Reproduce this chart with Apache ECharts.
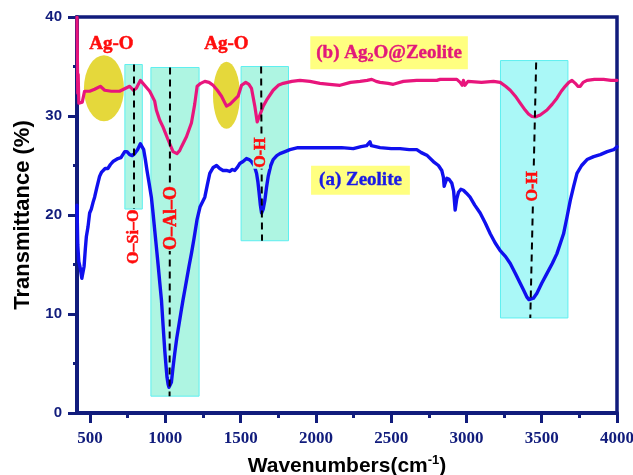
<!DOCTYPE html>
<html>
<head>
<meta charset="utf-8">
<script src="https://cdn.jsdelivr.net/npm/echarts@6/dist/echarts.min.js"></script>
<style>
  html, body { margin: 0; padding: 0; background: #ffffff; }
  #chart { width: 633px; height: 475px; }
</style>
</head>
<body>
<div id="chart"></div>
<script>
// FTIR spectra: (a) Zeolite and (b) Ag2O@Zeolite, transmittance vs wavenumber

const xRange = [413, 4000];
const xTickValues = [500, 1000, 1500, 2000, 2500, 3000, 3500, 4000];
const xMinorTickValues = [750, 1250, 1750, 2250, 2750, 3250, 3750];
const yRange = [0, 40];
const yStep = 10;

// (a) Zeolite
const zeoliteWn = [413, 418, 425, 435, 445, 452, 460, 468, 475, 486, 497, 508, 520, 530, 545, 563, 575, 585, 600, 618, 635, 652, 685, 705, 730, 745, 763, 780, 796, 815, 834, 845, 856, 867, 878, 892, 907, 918, 929, 940, 951, 962, 974, 985, 996, 1004, 1011, 1018, 1024, 1032, 1040, 1050, 1062, 1076, 1091, 1105, 1117, 1130, 1144, 1158, 1173, 1190, 1210, 1230, 1262, 1278, 1295, 1318, 1340, 1361, 1383, 1406, 1428, 1445, 1461, 1478, 1494, 1516, 1539, 1556, 1572, 1590, 1606, 1615, 1623, 1631, 1639, 1650, 1661, 1672, 1683, 1700, 1716, 1740, 1761, 1795, 1827, 1880, 1938, 2000, 2093, 2170, 2248, 2300, 2337, 2350, 2359, 2368, 2381, 2426, 2500, 2559, 2620, 2670, 2700, 2740, 2780, 2814, 2836, 2847, 2852, 2858, 2870, 2885, 2903, 2915, 2925, 2935, 2947, 2963, 2980, 3000, 3024, 3055, 3091, 3125, 3158, 3190, 3224, 3260, 3291, 3325, 3357, 3380, 3402, 3415, 3428, 3445, 3468, 3500, 3535, 3570, 3601, 3625, 3645, 3668, 3690, 3712, 3734, 3765, 3801, 3845, 3889, 3935, 3978, 4000];
const zeoliteT = [21.0, 17.0, 15.3, 14.6, 13.6, 13.4, 14.8, 16.5, 17.8, 18.8, 20.2, 20.6, 21.3, 21.8, 22.8, 23.9, 24.3, 24.5, 24.7, 24.7, 25.1, 25.4, 25.7, 25.8, 26.4, 26.4, 26.1, 26.0, 26.2, 26.6, 27.2, 27.0, 26.6, 25.6, 24.5, 23.2, 21.8, 20.2, 18.5, 16.8, 15.1, 13.3, 11.4, 8.8, 6.3, 4.8, 3.6, 2.9, 2.6, 2.7, 3.1, 4.5, 6.0, 7.6, 9.0, 10.3, 11.4, 12.5, 13.7, 14.9, 16.1, 17.6, 19.5, 20.8, 21.8, 23.0, 24.2, 24.8, 25.0, 24.7, 24.5, 24.5, 24.4, 24.6, 24.5, 24.8, 25.2, 25.4, 25.7, 25.6, 25.4, 25.0, 24.2, 23.3, 22.2, 21.0, 20.2, 20.6, 21.5, 22.8, 23.9, 25.0, 25.6, 26.0, 26.2, 26.4, 26.6, 26.8, 26.8, 26.8, 26.8, 26.8, 26.7, 26.9, 27.0, 27.2, 27.4, 27.0, 26.8, 26.8, 26.7, 26.7, 26.6, 26.6, 26.3, 26.0, 25.4, 25.0, 24.5, 23.8, 22.9, 23.2, 23.7, 23.6, 23.2, 22.4, 20.5, 21.6, 22.3, 22.6, 22.5, 22.2, 21.8, 21.0, 20.2, 19.2, 18.1, 17.2, 16.4, 15.8, 15.1, 14.1, 13.1, 12.4, 11.7, 11.45, 11.4, 11.6, 12.1, 13.1, 14.1, 15.1, 16.1, 17.2, 18.1, 19.8, 21.5, 22.9, 24.2, 25.0, 25.6, 25.9, 26.1, 26.4, 26.6, 26.9];

// (b) Ag2O@Zeolite
const agWn = [413, 418, 421, 425, 448, 463, 497, 530, 568, 597, 641, 696, 736, 763, 789, 807, 834, 862, 896, 929, 940, 962, 984, 1018, 1051, 1077, 1095, 1107, 1140, 1173, 1195, 1211, 1235, 1262, 1290, 1317, 1345, 1373, 1406, 1430, 1450, 1483, 1506, 1534, 1555, 1572, 1594, 1610, 1618, 1628, 1650, 1672, 1716, 1750, 1783, 1840, 1894, 1960, 2027, 2090, 2160, 2230, 2293, 2340, 2371, 2400, 2426, 2480, 2514, 2537, 2581, 2670, 2740, 2803, 2825, 2936, 2958, 2972, 2980, 2990, 3010, 3100, 3180, 3224, 3260, 3291, 3325, 3357, 3390, 3412, 3435, 3457, 3490, 3535, 3570, 3601, 3630, 3656, 3680, 3701, 3712, 3723, 3740, 3756, 3775, 3801, 3850, 3911, 3960, 4000];
const agT = [40.0, 32.3, 34.2, 31.3, 31.4, 32.5, 32.5, 32.7, 33.0, 32.6, 32.5, 32.5, 32.8, 33.0, 32.6, 32.8, 33.6, 33.1, 32.5, 31.5, 30.6, 29.6, 28.9, 27.6, 26.4, 26.2, 26.5, 26.9, 27.9, 29.3, 31.2, 33.0, 33.3, 33.5, 33.4, 33.1, 32.6, 32.0, 31.0, 31.2, 31.5, 32.0, 33.1, 33.4, 33.2, 32.8, 31.0, 29.4, 29.6, 30.1, 31.0, 31.6, 32.6, 33.1, 33.3, 33.5, 33.6, 33.5, 33.3, 33.2, 33.1, 33.4, 33.5, 33.6, 33.7, 33.5, 33.4, 33.3, 33.2, 33.3, 33.5, 33.6, 33.6, 33.6, 33.7, 33.7, 33.4, 33.1, 33.6, 33.1, 33.5, 33.4, 33.5, 33.4, 33.0, 32.6, 32.0, 31.3, 30.6, 30.2, 29.95, 29.9, 30.1, 30.6, 31.2, 31.8, 32.5, 33.0, 33.4, 33.6, 33.5, 33.3, 33.0, 33.0, 33.4, 33.6, 33.7, 33.7, 33.6, 33.6];

// Vibration bands: shaded ranges [wnFrom, wnTo, tTop, tBottom] and peak guide lines
const bandRanges = [[731, 847, 35.2, 20.6], [904, 1224, 34.9, 1.7], [1503, 1818, 35.0, 17.4], [3226, 3674, 35.6, 9.6]];
const bandFill = ['#aef5e2', '#aef5e2', '#aef5e2', '#aaf8f7'];
const peakLines = [[787, 35.2, 787, 20.6], [1031, 34.9, 1028, 1.7], [1636, 35.0, 1642, 17.4], [3463, 35.4, 3424, 9.6]];
const bandNames = ['O\u2013Si\u2013O', 'O\u2013Al\u2013O', 'O-H', 'O-H'];
const bandNameAt = [[789, 17.8], [1039, 19.7], [1634, 26.3], [3440, 22.9]];
const bandNameSize = [16, 18, 16, 16];
const bandNameBg = ['transparent', '#aef5e2', '#aef5e2', '#aaf8f7'];

// Ag-O regions
const agoCenters = [[592, 32.8], [1406, 32.1]];
const agoSizes = [[40, 66], [27, 67]];
const agoTextAt = [[641, 37.25], [1406, 37.25]];

// Sample captions
const captionAgAt = [2486, 36.4];
const captionZeoAt = [2296, 23.5];

const navy = '#111c7c';
const red = '#ff0d0d';
const pink = '#e2197a';
const serif = '"Liberation Serif", "Times New Roman", serif';
const sans = '"Liberation Sans", Arial, sans-serif';

const zip = (xs, ys) => xs.map((x, i) => [x, ys[i]]);

const textItems = [];
bandNames.forEach((t, i) => {
  textItems.push({
    value: bandNameAt[i],
    label: {
      show: true, formatter: t, rotate: 90, position: 'inside', opacity: 1,
      color: red, textBorderColor: red, textBorderWidth: 0.5,
      fontFamily: serif, fontWeight: 'bold', fontSize: bandNameSize[i],
      backgroundColor: bandNameBg[i], padding: [0, 1]
    }
  });
});
agoTextAt.forEach((p) => {
  textItems.push({
    value: p,
    label: { show: true, formatter: 'Ag-O', position: 'inside', opacity: 1,
      color: red, textBorderColor: red, textBorderWidth: 0.5,
      fontFamily: serif, fontWeight: 'bold', fontSize: 19 }
  });
});
textItems.push({
  value: captionAgAt,
  label: {
    show: true, position: 'inside', opacity: 1, formatter: '{t|(b) Ag}{s|2}{t|O@Zeolite}',
    backgroundColor: '#ffff80', padding: [7, 6, 6, 6],
    rich: {
      t: { color: pink, textBorderColor: pink, textBorderWidth: 0.4, fontFamily: serif, fontWeight: 'bold', fontSize: 19, lineHeight: 20 },
      s: { color: pink, textBorderColor: pink, textBorderWidth: 0.3, fontFamily: serif, fontWeight: 'bold', fontSize: 12, lineHeight: 20, padding: [10, 0, 0, 0] }
    }
  }
});
textItems.push({
  value: captionZeoAt,
  label: {
    show: true, position: 'inside', opacity: 1, formatter: '(a) Zeolite',
    backgroundColor: '#ffff80', padding: [5, 8, 5, 8],
    color: '#1a1ae6', textBorderColor: '#1a1ae6', textBorderWidth: 0.4,
    fontFamily: serif, fontWeight: 'bold', fontSize: 19
  }
});

const chart = echarts.init(document.getElementById('chart'), null, { renderer: 'canvas' });

chart.setOption({
  animation: false,
  backgroundColor: '#ffffff',
  grid: {
    left: 77, right: 16, top: 17, bottom: 62,
    containLabel: false, outerBoundsMode: 'none',
    show: true, borderColor: navy, borderWidth: 3.5, backgroundColor: 'transparent'
  },
  xAxis: [{
    type: 'value', min: xRange[0], max: xRange[1], position: 'bottom',
    name: '{b|Wavenumbers(cm}{sup|-1}{b|)}', nameLocation: 'middle', nameGap: 41,
    nameTextStyle: {
      rich: {
        b: { fontFamily: sans, fontWeight: 'bold', fontSize: 21, color: '#000', lineHeight: 24 },
        sup: { fontFamily: sans, fontWeight: 'bold', fontSize: 13, color: '#000', lineHeight: 24, padding: [0, 0, 12, 0] }
      }
    },
    axisLine: { show: true, onZero: false, lineStyle: { color: navy, width: 4 } },
    axisTick: { show: true, customValues: xTickValues, length: 10, lineStyle: { color: navy, width: 3 } },
    axisLabel: { show: true, customValues: xTickValues, margin: 17, color: navy,
      formatter: (v) => String(v),
      fontFamily: serif, fontWeight: 'bold', fontSize: 17 },
    splitLine: { show: false }
  }, {
    type: 'value', min: xRange[0], max: xRange[1], position: 'bottom', gridIndex: 0,
    axisLine: { show: false },
    axisTick: { show: true, customValues: xMinorTickValues, length: 5, lineStyle: { color: navy, width: 3 } },
    axisLabel: { show: false },
    splitLine: { show: false }
  }],
  yAxis: {
    type: 'value', min: yRange[0], max: yRange[1], interval: yStep,
    name: 'Transmittance (%)', nameLocation: 'middle', nameGap: 40,
    nameTextStyle: { fontFamily: sans, fontWeight: 'bold', fontSize: 22, color: '#000' },
    axisLine: { show: true, onZero: false, lineStyle: { color: navy, width: 4 } },
    axisTick: { show: true, length: 9, lineStyle: { color: navy, width: 3 } },
    minorTick: { show: true, splitNumber: 2, length: 4, lineStyle: { color: navy, width: 3 } },
    axisLabel: { margin: 15, color: navy, fontFamily: sans, fontWeight: 'bold', fontSize: 15 },
    splitLine: { show: false },
    minorSplitLine: { show: false }
  },
  series: [
    {
      name: 'bands', type: 'line', data: [], z: 1, silent: true,
      markArea: {
        silent: true,
        data: bandRanges.map((b, i) => [
          { coord: [b[0], b[2]], itemStyle: { color: bandFill[i], borderColor: '#5eeff0', borderWidth: 1 } },
          { coord: [b[1], b[3]] }
        ])
      }
    },
    {
      name: 'Ag-O', type: 'scatter', z: 2, silent: true,
      data: agoCenters.map((c, i) => ({ value: c, symbolSize: agoSizes[i] })),
      symbol: 'circle',
      itemStyle: { color: '#e5d83b', opacity: 1 }
    },
    {
      name: '(a) Zeolite', type: 'line', z: 3, data: zip(zeoliteWn, zeoliteT),
      showSymbol: false, symbol: 'none', smooth: false,
      lineStyle: { color: '#1010ee', width: 3.4, join: 'round', cap: 'round' }
    },
    {
      name: '(b) Ag2O@Zeolite', type: 'line', z: 3, data: zip(agWn, agT),
      showSymbol: false, symbol: 'none', smooth: false,
      lineStyle: { color: '#e8157c', width: 3.2, join: 'round', cap: 'round' }
    },
    {
      name: 'peaks', type: 'line', data: [], z: 4, silent: true,
      markLine: {
        silent: true, symbol: ['none', 'none'],
        label: { show: false },
        lineStyle: { color: '#000', type: [7, 5], width: 2 },
        data: peakLines.map((p) => [{ coord: [p[0], p[1]] }, { coord: [p[2], p[3]] }])
      }
    },
    {
      name: 'labels', type: 'scatter', z: 5, silent: true,
      symbolSize: 1, itemStyle: { color: 'transparent', opacity: 1 },
      data: textItems
    }
  ]
});
</script>
</body>
</html>
